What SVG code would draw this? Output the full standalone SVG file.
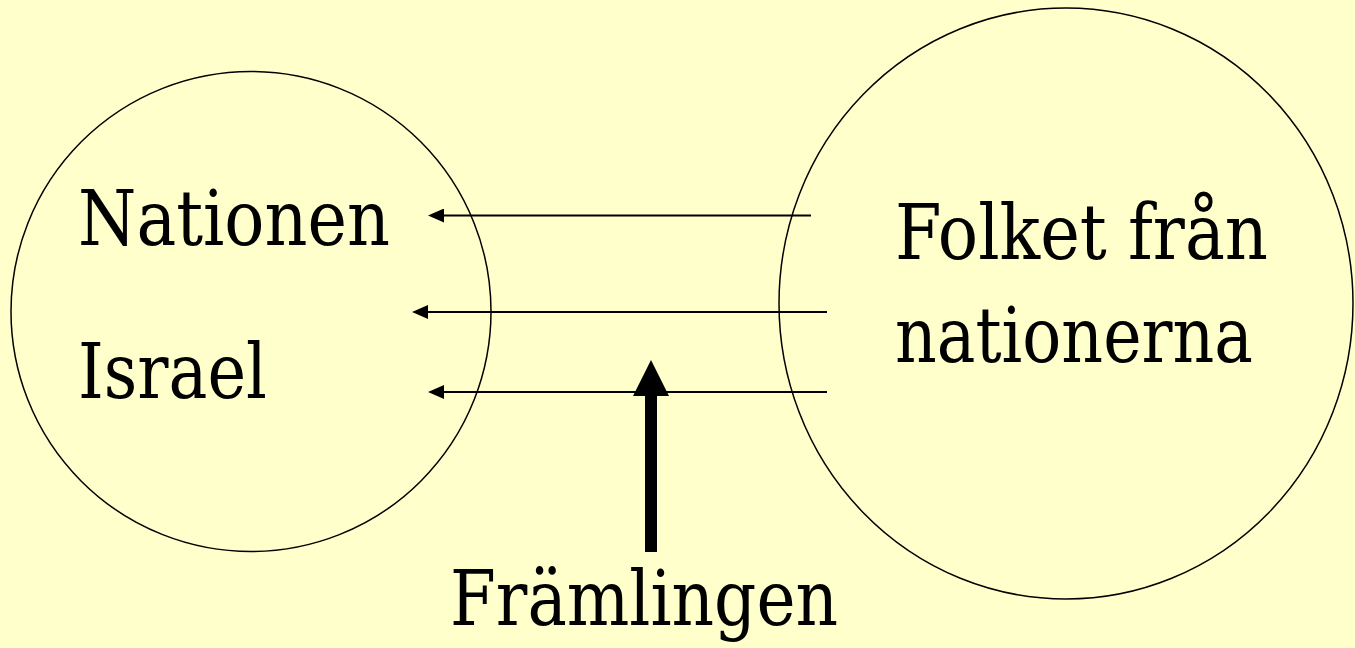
<svg xmlns="http://www.w3.org/2000/svg" width="1355" height="648" viewBox="0 0 1355 648">
  <style>
    .circle { fill: none; stroke: #000; stroke-width: 1.5; }
    .label { font-family: "DejaVu Serif", "Liberation Serif", serif; font-size: 76px; fill: #000; }
    .conn { stroke: #000; stroke-width: 2.2; fill: none; }
  </style>
  <defs>
    <marker id="head" markerUnits="userSpaceOnUse" viewBox="0 0 16 14" refX="4" refY="7" markerWidth="16" markerHeight="14" orient="auto">
      <path d="M0,0 L16,7 L0,14 z" fill="#000"/>
    </marker>
  </defs>
  <rect x="0" y="0" width="1355" height="648" fill="#FFFFCC"/>

  <g id="israel">
    <circle class="circle" cx="251" cy="311.5" r="240"/>
    <text class="label" x="78" y="245" textLength="312" lengthAdjust="spacingAndGlyphs">Nationen</text>
    <text class="label" x="78" y="398" textLength="189" lengthAdjust="spacingAndGlyphs">Israel</text>
  </g>

  <g id="nationerna">
    <ellipse class="circle" cx="1066" cy="303.5" rx="287" ry="295.5"/>
    <text class="label" x="895" y="259" textLength="373" lengthAdjust="spacingAndGlyphs">Folket från</text>
    <text class="label" x="895" y="362" textLength="358" lengthAdjust="spacingAndGlyphs">nationerna</text>
  </g>

  <g id="framlingen">
    <text class="label" x="450" y="625" textLength="388" lengthAdjust="spacingAndGlyphs">Främlingen</text>
  </g>

  <g id="connectors">
    <line class="conn" x1="811" y1="215.5" x2="440" y2="215.5" marker-end="url(#head)"/>
    <line class="conn" x1="827" y1="312" x2="424" y2="312" marker-end="url(#head)"/>
    <line class="conn" x1="827" y1="392" x2="440" y2="392" marker-end="url(#head)"/>
    <polygon points="645,552 657,552 657,396 669,396 651,360 633,396 645,396" fill="#000"/>
  </g>
</svg>
